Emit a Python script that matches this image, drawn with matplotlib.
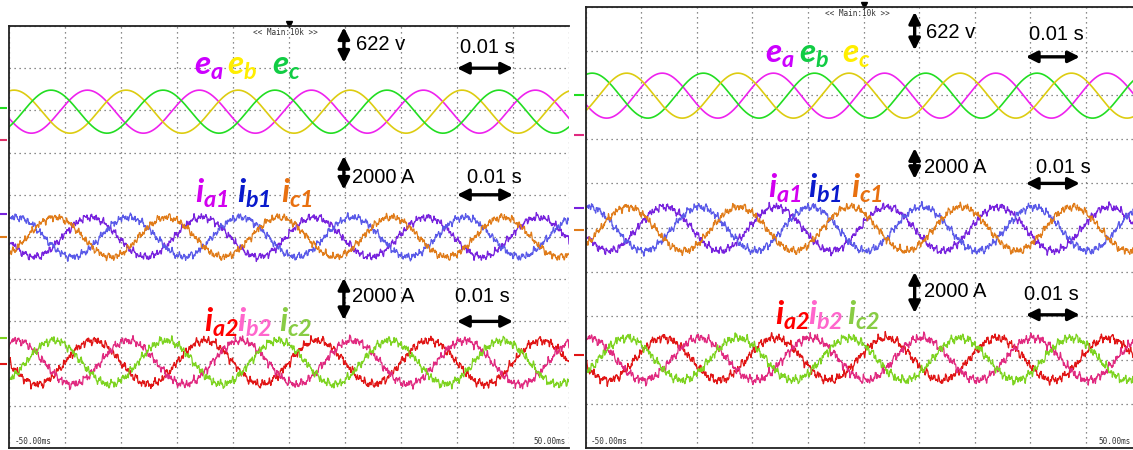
import numpy as np
import matplotlib
matplotlib.use("Agg")
import matplotlib.pyplot as plt

plt.rcParams["font.family"] = ["Liberation Sans", "DejaVu Sans"]
plt.rcParams["mathtext.fontset"] = "custom"
plt.rcParams["mathtext.it"] = "Lato:italic:bold"
plt.rcParams["mathtext.rm"] = "Lato:italic:bold"
plt.rcParams["mathtext.bf"] = "Lato:italic:bold"

# scope time base: -50 ms .. 50 ms, 10 ms / div
t_ms = np.linspace(-50, 50, 2401)
period_ms = 20.0

# trace levels in divisions (0 = bottom, 10 = top)
left_centers = [7.97, 5.0, 2.03]
right_centers = [7.99, 4.97, 2.02]

# amplitudes (div) of the fundamental and of the switching ripple
left_amps = [0.51, 0.47, 0.52]
right_amps = [0.51, 0.50, 0.48]
ripple_amps = [0.0, 0.08, 0.09]

# peak times (ms) of each phase a, b, c
left_e_peak = [-36.0, -49.1, -42.5]
left_i1_peak = [-35.5, -48.7, -41.8]
left_i2_peak = [-35.0, -48.7, -42.0]
right_e_peak = [-36.2, -48.8, -42.6]
right_i1_peak = [-35.8, -49.5, -42.4]
right_i2_peak = [-36.0, -49.5, -42.6]

# trace colours (phase a, b, c)
left_e_colors = ["#EE22EE", "#DDCC11", "#22DD22"]
right_e_colors = ["#EE22EE", "#22DD22", "#DDCC11"]
i1_colors = ["#7722DD", "#5A5AE8", "#E07C1A"]
i2_colors = ["#E01515", "#E02A80", "#7DD320"]

# label texts and colours
left_e_labels = ["$e_a$", "$e_b$", "$e_c$"]
left_e_label_colors = ["#CC00FF", "#FFEE00", "#11CC44"]
right_e_labels = ["$e_a$", "$e_b$", "$e_c$"]
right_e_label_colors = ["#CC00FF", "#11CC44", "#FFEE00"]
i1_labels = ["$i_{a1}$", "$i_{b1}$", "$i_{c1}$"]
i1_label_colors = ["#D200F0", "#0A1ACC", "#E87010"]
i2_labels = ["$i_{a2}$", "$i_{b2}$", "$i_{c2}$"]
i2_label_colors = ["#FF0000", "#FF66CC", "#88CC44"]

# ripple harmonics (cycles per ms)
ripple_freqs = [0.57, 0.93, 1.47, 2.29, 3.13, 4.71, 6.07]
ripple_weights = [0.3, 0.4, 0.35, 0.3, 0.25, 0.2, 0.15]


def trace(center, amp, peak, ripple, seed):
    y = center + amp * np.cos(2 * np.pi * (t_ms - peak) / period_ms)
    for k, (f, w) in enumerate(zip(ripple_freqs, ripple_weights)):
        y += ripple * w * np.sin(2 * np.pi * f * t_ms + seed * (k + 1) * 1.618)
    return y


def arrow(ax, p0, p1):
    ax.annotate("", xy=p1, xytext=p0,
                arrowprops=dict(arrowstyle="<|-|>", color="k", lw=2.4,
                                mutation_scale=17, shrinkA=0, shrinkB=0))


def setup(ax, right_label_x):
    ax.set_xlim(0, 10)
    ax.set_ylim(0, 10)
    ax.set_xticks(range(11))
    ax.set_yticks(range(11))
    ax.grid(True, linestyle=(0, (1, 3)), color="#666666", lw=0.9)
    ax.tick_params(length=0, labelbottom=False, labelleft=False)
    for s in ["left", "top", "bottom"]:
        ax.spines[s].set_color("#222222")
        ax.spines[s].set_linewidth(1.3)
    ax.spines["right"].set_visible(False)
    ax.text(0.1, 0.05, "-50.00ms", family="DejaVu Sans Mono", fontsize=5.5,
            color="#333333", va="bottom")
    ax.text(right_label_x, 0.05, "50.00ms", family="DejaVu Sans Mono",
            fontsize=5.5, color="#333333", va="bottom", ha="right")


fig = plt.figure(figsize=(11.33, 4.5), dpi=100)
W, H = 1133, 450
ax_l = fig.add_axes([9 / W, 2 / H, 560 / W, 422 / H])
ax_r = fig.add_axes([585.5 / W, 2 / H, 556 / W, 441 / H])

panels = [
    (ax_l, 9.95, left_centers, left_amps,
     [left_e_peak, left_i1_peak, left_i2_peak],
     [left_e_colors, i1_colors, i2_colors],
     [left_e_labels, i1_labels, i2_labels],
     [left_e_label_colors, i1_label_colors, i2_label_colors],
     # label x (div) per group, label baseline y (div)
     [[3.3, 3.9, 4.7], [3.32, 4.07, 4.86], [3.48, 4.07, 4.83]],
     [8.84, 5.81, 2.75]),
    (ax_r, 9.8, right_centers, right_amps,
     [right_e_peak, right_i1_peak, right_i2_peak],
     [right_e_colors, i1_colors, i2_colors],
     [right_e_labels, i1_labels, i2_labels],
     [right_e_label_colors, i1_label_colors, i2_label_colors],
     [[3.23, 3.84, 4.61], [3.28, 4.0, 4.77], [3.41, 4.0, 4.7]],
     [8.73, 5.67, 2.79]),
]

for ax, rx, centers, amps, peaks, colors, labels, lcolors, lx, ly in panels:
    setup(ax, rx)
    for g in range(3):
        lw = 1.2 if g == 0 else 0.9
        for ph in range(3):
            y = trace(centers[g], amps[g], peaks[g][ph], ripple_amps[g],
                      seed=g * 3 + ph + 1)
            ax.plot(t_ms / 10 + 5, y, color=colors[g][ph], lw=lw)
            ax.text(lx[g][ph], ly[g], labels[g][ph], color=lcolors[g][ph],
                    fontsize=24, va="baseline", ha="left")

# scale annotations, left panel
arrow(ax_l, (5.98, 9.13), (5.98, 9.97))
ax_l.text(6.2, 9.57, "622 v", fontsize=14.5, va="center")
ax_l.text(8.05, 9.5, "0.01 s", fontsize=14.5, va="center")
arrow(ax_l, (8.0, 9.0), (9.0, 9.0))
arrow(ax_l, (5.98, 6.12), (5.98, 6.92))
ax_l.text(6.13, 6.42, "2000 A", fontsize=14.5, va="center")
ax_l.text(8.17, 6.42, "0.01 s", fontsize=14.5, va="center")
arrow(ax_l, (8.0, 6.0), (9.0, 6.0))
arrow(ax_l, (5.98, 3.03), (5.98, 4.03))
ax_l.text(6.13, 3.58, "2000 A", fontsize=14.5, va="center")
ax_l.text(7.96, 3.58, "0.01 s", fontsize=14.5, va="center")
arrow(ax_l, (8.0, 3.0), (9.0, 3.0))

# scale annotations, right panel
arrow(ax_r, (5.92, 9.02), (5.92, 9.89))
ax_r.text(6.12, 9.43, "622 v", fontsize=14.5, va="center")
ax_r.text(7.98, 9.37, "0.01 s", fontsize=14.5, va="center")
arrow(ax_r, (7.92, 8.87), (8.89, 8.87))
arrow(ax_r, (5.92, 6.1), (5.92, 6.8))
ax_r.text(6.09, 6.37, "2000 A", fontsize=14.5, va="center")
ax_r.text(8.1, 6.37, "0.01 s", fontsize=14.5, va="center")
arrow(ax_r, (7.92, 6.0), (8.89, 6.0))
arrow(ax_r, (5.92, 3.06), (5.92, 3.99))
ax_r.text(6.09, 3.54, "2000 A", fontsize=14.5, va="center")
ax_r.text(7.89, 3.47, "0.01 s", fontsize=14.5, va="center")
arrow(ax_r, (7.92, 3.02), (8.89, 3.02))

# scope header and trigger marker
for ax, x0 in [(ax_l, 4.35), (ax_r, 4.3)]:
    ax.text(x0, 9.85, "<< Main:10k >>", family="DejaVu Sans Mono",
            fontsize=5.5, color="#333333", va="center")
    ax.plot([5.0], [10.05], marker="v", color="k", ms=4, clip_on=False)

# channel ground markers on the left edge
for ax, levels, cols in [
    (ax_l, [8.05, 7.3, 5.55, 5.0, 2.6, 1.98],
     ["#22DD22", "#E0306A", "#7722DD", "#E07C1A", "#7DD320", "#E01515"]),
    (ax_r, [8.0, 7.1, 5.45, 4.95, 2.1],
     ["#22DD22", "#E02A80", "#7722DD", "#E07C1A", "#E01515"]),
]:
    for lev, c in zip(levels, cols):
        ax.plot([-0.12], [lev], marker="_", color=c, ms=7, mew=1.5,
                clip_on=False)

fig.savefig("out.png", dpi=100)
